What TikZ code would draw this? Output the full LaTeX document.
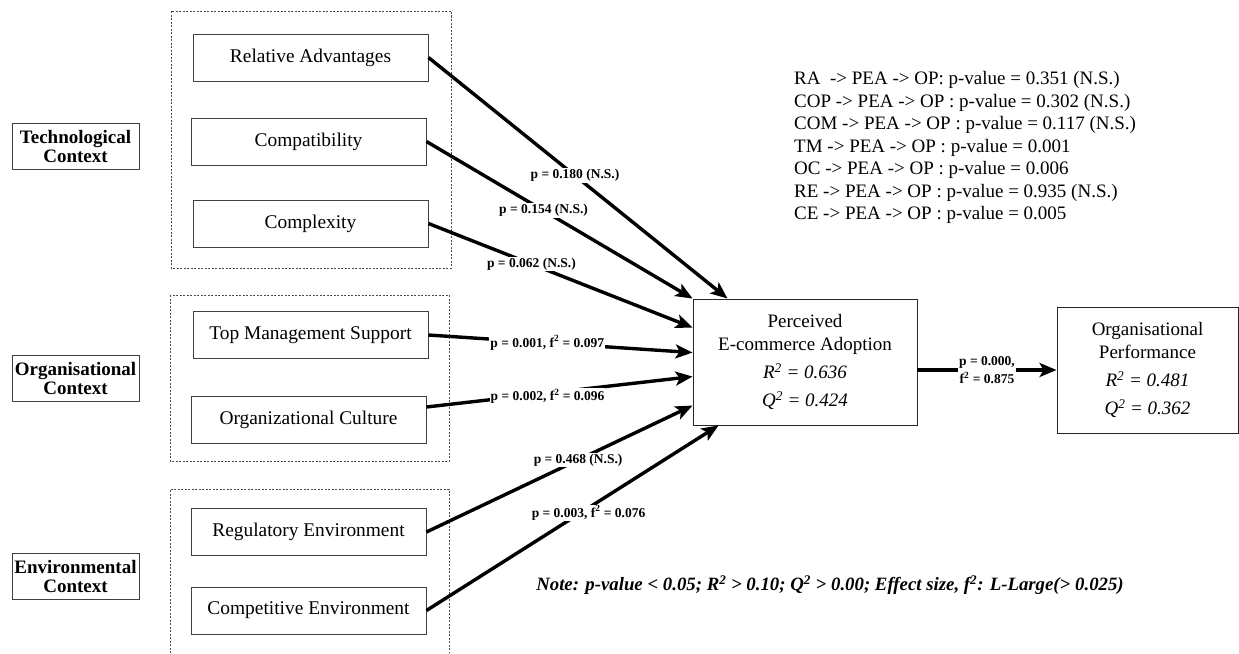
\documentclass[tikz,border=0pt]{standalone}
\usepackage{fontspec}
\setmainfont{Liberation Serif}
\usetikzlibrary{arrows.meta,calc}
\begin{document}
\begin{tikzpicture}[x=1pt, y=-1pt,
    factor/.style={draw=black!75, line width=0.9pt, minimum width=235pt, minimum height=47pt, inner sep=0pt, font=\fontsize{19.4}{22}\selectfont},
    context/.style={draw=black!75, line width=0.9pt, minimum width=127pt, minimum height=46pt, inner sep=0pt, align=center, font=\bfseries\fontsize{19}{19}\selectfont},
    construct/.style={draw=black!85, line width=0.9pt, inner sep=0pt, align=center, font=\fontsize{19}{23}\selectfont},
    group/.style={draw=black!70, line width=0.6pt, dash pattern=on 2pt off 1.5pt},
    link/.style={line width=3.4pt, -{Stealth[length=17pt, width=14pt, inset=4pt]}},
    plabel/.style={fill=white, inner sep=1pt, font=\bfseries\fontsize{13.5}{18}\selectfont, align=center}]
                \useasboundingbox (0,0) rectangle (1239,653);
                % dashed groups
                \draw[group] (171,11) rectangle (451,268);
                \draw[group] (170,295) rectangle (449,461);
                \draw[group] (170,653) -- (170,489) -- (449,489) -- (449,653);
                % contexts
                \node[context] (tech) at (75.5,146) {Technological\\Context};
                \node[context] (org) at (75.5,378) {Organisational\\Context};
                \node[context] (env) at (75.5,576) {Environmental\\Context};
                % factors
                \node[factor] (RA) at (310.5,57.5) {Relative Advantages};
                \node[factor] (COP) at (308.5,141.5) {Compatibility};
                \node[factor] (COM) at (310.5,223.5) {Complexity};
                \node[factor] (TM) at (310.5,335) {Top Management Support};
                \node[factor] (OC) at (308.5,420) {Organizational Culture};
                \node[factor] (RE) at (308.5,532) {Regulatory Environment};
                \node[factor] (CE) at (308.5,610.5) {Competitive Environment};
                % constructs
                \node[construct, minimum width=224pt, minimum height=126pt] (PEA) at (805,362)
                    {Perceived\\E-commerce Adoption\\[5pt]\textit{R\textsuperscript{2} = 0.636}\\[5pt]\textit{Q\textsuperscript{2} = 0.424}};
                \node[construct, minimum width=181pt, minimum height=126pt] (OP) at (1147.5,370)
                    {Organisational\\Performance\\[5pt]\textit{R\textsuperscript{2} = 0.481}\\[5pt]\textit{Q\textsuperscript{2} = 0.362}};
                % paths
                \draw[link] (RA.east) -- node[plabel, pos=0.49] {p = 0.180 (N.S.)} ($(PEA.north west)+(35,0)$);
                \draw[link] (COP.east) -- node[plabel, pos=0.44] {p = 0.154 (N.S.)} (PEA.north west);
                \draw[link] (COM.east) -- node[plabel, pos=0.39] {p = 0.062 (N.S.)} ($(PEA.north west)+(0,29)$);
                \draw[link] (TM.east) -- node[plabel, pos=0.45] {p = 0.001, f\textsuperscript{2} = 0.097} ($(PEA.north west)+(0,54)$);
                \draw[link] ($(OC.east)+(0,-13)$) -- node[plabel, pos=0.455, yshift=-3pt] {p = 0.002, f\textsuperscript{2} = 0.096} ($(PEA.north west)+(0,78)$);
                \draw[link] (RE.east) -- node[plabel, pos=0.57] {p = 0.468 (N.S.)} ($(PEA.north west)+(0,107)$);
                \draw[link] (CE.east) -- node[plabel, pos=0.555, yshift=-5pt] {p = 0.003, f\textsuperscript{2} = 0.076} ($(PEA.south west)+(26,0)$);
                \draw[link] (PEA.east |- OP.west) -- node[plabel] {p = 0.000,\\f\textsuperscript{2} = 0.875} (OP.west);
                % mediation results
                \foreach \i/\txt in {1/{RA\ \ -> PEA -> OP: p-value = 0.351 (N.S.)},
                                     2/{COP -> PEA -> OP : p-value = 0.302 (N.S.)},
                                     3/{COM -> PEA -> OP : p-value = 0.117 (N.S.)},
                                     4/{TM -> PEA -> OP : p-value = 0.001},
                                     5/{OC -> PEA -> OP : p-value = 0.006},
                                     6/{RE -> PEA -> OP : p-value = 0.935 (N.S.)},
                                     7/{CE -> PEA -> OP : p-value = 0.005}}
                    \node[anchor=west, inner sep=0pt, font=\fontsize{19}{22}\selectfont] (med\i) at (794,{80+22.5*(\i-1)}) {\txt};
                % note
                \node[inner sep=0pt, font=\bfseries\itshape\fontsize{18.8}{22}\selectfont] (note) at (830,585)
                    {Note: p-value < 0.05; R\textsuperscript{2} > 0.10; Q\textsuperscript{2} > 0.00; Effect size, f\textsuperscript{2}: L-Large(> 0.025)};
\end{tikzpicture}
\end{document}
